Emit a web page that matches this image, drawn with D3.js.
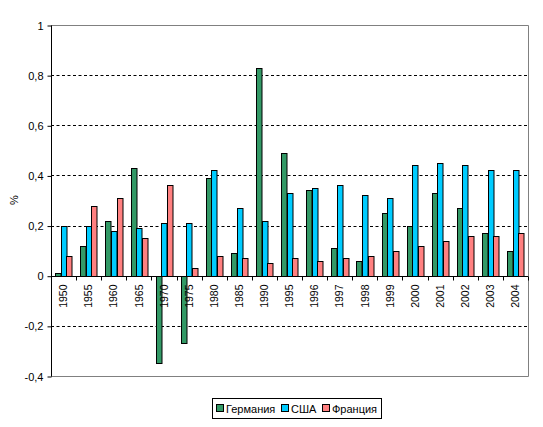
<!DOCTYPE html>
<html><head><meta charset="utf-8">
<script src="https://cdn.jsdelivr.net/npm/d3@7"></script>
<style>body{margin:0;background:#fff}svg{display:block}text{font-family:"Liberation Sans",Arial,sans-serif;}</style>
</head><body>
<svg id="c" width="543" height="427"></svg>
<script>
const years = ["1950","1955","1960","1965","1970","1975","1980","1985","1990","1995","1996","1997","1998","1999","2000","2001","2002","2003","2004"];
const germany = [0.01,0.12,0.22,0.43,-0.35,-0.27,0.39,0.09,0.83,0.49,0.34,0.11,0.06,0.25,0.20,0.33,0.27,0.17,0.10];
const usa     = [0.20,0.20,0.18,0.19,0.21,0.21,0.42,0.27,0.22,0.33,0.35,0.36,0.32,0.31,0.44,0.45,0.44,0.42,0.42];
const france  = [0.08,0.28,0.31,0.15,0.36,0.03,0.08,0.07,0.05,0.07,0.06,0.07,0.08,0.10,0.12,0.14,0.16,0.16,0.17];
const seriesNames = ["Германия","США","Франция"];
const colors = ["#339966","#00CCFF","#FF8080"];
const yTicks = [-0.4,-0.2,0,0.2,0.4,0.6,0.8,1];

const FONT = "'Liberation Sans',Arial,sans-serif";
const svg = d3.select("#c");
const L=51, R=528, T=25, B=376;
const x = d3.scaleBand().domain(years).range([L,R]).paddingInner(0).paddingOuter(0);
const y = d3.scaleLinear().domain([-0.4,1]).range([B,T]);
const fmt = v => (v===0?"0":String(+v.toFixed(1)).replace(".",","));

// grid
svg.append("g").selectAll("line").data(yTicks.filter(v=>v!==0 && v!==1 && v!==-0.4)).join("line")
  .attr("x1",L).attr("x2",R).attr("y1",d=>Math.round(y(d))+0.5).attr("y2",d=>Math.round(y(d))+0.5)
  .attr("stroke","#000").attr("stroke-dasharray","3,2.5").attr("stroke-width",1);
// frame top/right/bottom gray
svg.append("path").attr("d",`M${L},${T+0.5}H${R+0.5}V${B+0.5}H${L}`).attr("fill","none").attr("stroke","#808080");

// bars
const sub = d3.scaleBand().domain([0,1,2]).range([0,x.bandwidth()]).paddingOuter(0.75).paddingInner(0);
const data = [germany,usa,france];
data.forEach((arr,si)=>{
  svg.append("g").selectAll("rect").data(years).join("rect")
    .attr("x",(d,i)=>Math.round(x(d)+sub(si))+0.5)
    .attr("width",Math.round(sub.bandwidth())-0.5)
    .attr("y",(d,i)=>Math.round(y(Math.max(0,arr[i])))+0.5)
    .attr("height",(d,i)=>Math.abs(Math.round(y(arr[i]))-Math.round(y(0))))
    .attr("fill",colors[si]).attr("stroke","#000").attr("stroke-width",1);
});

// y axis
const yAxis = d3.axisLeft(y).tickValues(yTicks).tickFormat(fmt).tickSize(4).tickPadding(4);
const ga = svg.append("g").attr("transform",`translate(${L+0.5},0.5)`).call(yAxis).attr("font-family",FONT);
ga.select(".domain").attr("d",`M0,${y(1)}V${y(-0.4)}`).attr("stroke","#000");
ga.selectAll("text").attr("font-size","11px").attr("fill","#000");

// x axis at zero
const xAxis = d3.axisBottom(x).tickSize(0).tickFormat(d=>d);
const gx = svg.append("g").attr("transform",`translate(0,${Math.round(y(0))+0.5})`).call(xAxis).attr("font-family",FONT);
gx.select(".domain").attr("d",`M${L},0H${R}`).attr("stroke","#000");
gx.selectAll(".tick text").attr("transform","rotate(-90)").attr("text-anchor","end")
  .attr("x",-8).attr("y",0).attr("dy","0.35em").attr("font-size","10.5px").attr("fill","#000");
// category ticks at boundaries
gx.append("g").selectAll("line").data(years.concat(["end"])).join("line")
  .attr("x1",(d,i)=>Math.round(L+i*x.step())+0.5).attr("x2",(d,i)=>Math.round(L+i*x.step())+0.5)
  .attr("y1",0).attr("y2",4).attr("stroke","#000");

// y label
svg.append("text").attr("transform","translate(18,200) rotate(-90)").attr("text-anchor","middle")
  .attr("font-size","11px").text("%");

// legend
const lg = svg.append("g");
lg.append("rect").attr("x",212.5).attr("y",398.5).attr("width",169).attr("height",20).attr("fill","#fff").attr("stroke","#000");
const lx = [216,281,322];
seriesNames.forEach((n,i)=>{
  lg.append("rect").attr("x",lx[i]+0.5).attr("y",404.5).attr("width",7).attr("height",7).attr("fill",colors[i]).attr("stroke","#000");
  lg.append("text").attr("x",lx[i]+10).attr("y",412.5).attr("font-size","11px").text(n);
});
</script>
</body></html>
